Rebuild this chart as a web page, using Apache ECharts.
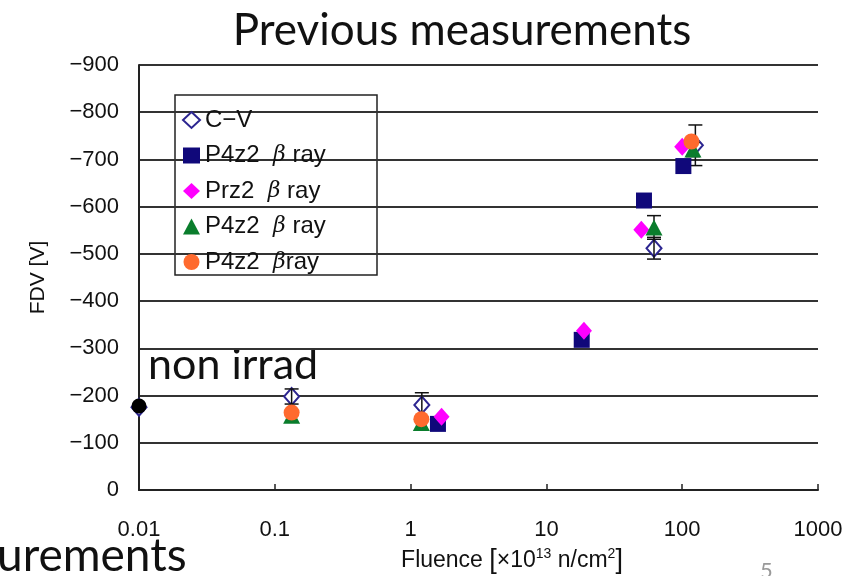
<!DOCTYPE html>
<html><head><meta charset="utf-8">
<script src="https://cdn.jsdelivr.net/npm/echarts@6/dist/echarts.min.js"></script>
<style>html,body{margin:0;padding:0;background:#fff}#c{width:866px;height:576px}</style>
</head><body><div id="c"></div>
<script>
// ---- data ----
const xTickLabels = ['0.01','0.1','1','10','100','1000'];
const nonIrrad = [[0.01,-178]];
const cvData = [[0.01,-175],[0.133,-198],[1.21,-180],[62,-512],[125,-730]];
const cvErr = [0,16,26,23,43];
const p4z2Navy = [[1.59,-140],[18.2,-318],[52.3,-613],[102,-686]];
const prz2Magenta = [[1.69,-155],[18.9,-337],[50,-551],[100,-727]];
const p4z2Green = [[0.133,-157],[1.2,-142],[62,-556],[120,-721]];
const greenErr = [0,0,25,15];
const p4z2Orange = [[0.133,-164],[1.2,-150],[117,-738]];
const legendNames = ['C-V','P4z2 a','Prz2','P4z2 b','P4z2 c'];
const legendLabels = {'C-V':'C−V','P4z2 a':'P4z2  {b|β} ray','Prz2':'Prz2  {b|β} ray','P4z2 b':'P4z2  {b|β} ray','P4z2 c':'P4z2  {b|β}ray'};

function errData(pts, errs){
  const out=[];
  pts.forEach((p,i)=>{ if(errs[i]>0) out.push([p[0], p[1]-errs[i], p[1]+errs[i]]); });
  return out;
}
const errBars = errData(cvData,cvErr).concat(errData(p4z2Green,greenErr));

const sans = "'Liberation Sans',Arial,sans-serif";
const slide = "Lato, 'Open Sans', sans-serif";
const chart = echarts.init(document.getElementById('c'));
chart.setOption({
  animation:false,
  backgroundColor:'#fff',
  grid:{left:139,right:48,top:65,bottom:86,show:false},
  xAxis:{type:'log',logBase:10,min:0.01,max:1000,
    axisLine:{show:true,onZero:false,lineStyle:{color:'#222',width:2}},
    axisTick:{show:true,inside:true,length:6,lineStyle:{color:'#222',width:1.5}},
    axisLabel:{margin:29,fontFamily:sans,fontSize:22,color:'#111',
      formatter:v=>{const i=Math.round(Math.log10(v))+2;return xTickLabels[i]!==undefined?xTickLabels[i]:'';}},
    splitLine:{show:false}},
  yAxis:{type:'value',min:-900,max:0,interval:100,inverse:true,
    name:'FDV [V]',nameLocation:'middle',nameGap:90,nameRotate:90,
    nameTextStyle:{fontFamily:sans,fontSize:21,color:'#111'},
    axisLine:{show:true,lineStyle:{color:'#222',width:2}},
    axisTick:{show:false},
    axisLabel:{margin:20,fontFamily:sans,fontSize:22,color:'#111',
      formatter:v=>v===0?'0':'−'+Math.abs(v)},
    splitLine:{show:true,lineStyle:{color:'#333',width:2}}},
  legend:{orient:'vertical',left:177,top:103,itemWidth:17,itemHeight:16,itemGap:11.5,
    data:legendNames,
    formatter:n=>legendLabels[n],
    textStyle:{fontFamily:sans,fontSize:24,lineHeight:20,color:'#111',
      rich:{b:{fontFamily:"'DejaVu Serif',serif",fontStyle:'italic',fontSize:22,lineHeight:20,color:'#111'}}}},
  graphic:[
    {type:'rect',shape:{x:175,y:95,width:202,height:180},style:{fill:'#fff',stroke:'#222',lineWidth:1.5},z:-1},
    {type:'text',x:462,y:31,style:{text:'Previous measurements',font:"44px "+slide,fill:'#111',align:'center',verticalAlign:'middle'}},
    {type:'text',x:148,y:365,style:{text:'non irrad',font:"43px "+slide,fill:'#111',verticalAlign:'middle'}},
    {type:'text',x:-3,y:556,style:{text:'urements',font:"46px "+slide,fill:'#111',verticalAlign:'middle'}},
    {type:'text',x:760,y:560,style:{text:'5',font:"22px "+slide,fill:'#999'}},
    {type:'text',x:512,y:561,style:{
      text:'Fluence {a|[}×10{s|13} n/cm{s|2}{a|]}',
      font:"23px "+sans,fill:'#111',align:'center',verticalAlign:'middle',
      rich:{s:{fontSize:14,verticalAlign:'top',padding:[0,0,12,0],fontFamily:sans,fill:'#111'},a:{fontSize:27,fontFamily:sans,fill:'#111'}}}}
  ],
  series:[
    {name:'C-V',type:'scatter',data:cvData,symbol:'emptyDiamond',symbolSize:[15,17],
      itemStyle:{color:'#2c2590',borderColor:'#2c2590',borderWidth:2,opacity:1},z:2},
    {name:'errors',type:'custom',data:errBars,z:3,
      renderItem:(params,api)=>{
        const x=api.value(0);const lo=api.coord([x,api.value(1)]);const hi=api.coord([x,api.value(2)]);
        const hw=7;const st={stroke:'#111',lineWidth:1.5};
        return {type:'group',children:[
          {type:'line',shape:{x1:lo[0],y1:lo[1],x2:hi[0],y2:hi[1]},style:st},
          {type:'line',shape:{x1:lo[0]-hw,y1:lo[1],x2:lo[0]+hw,y2:lo[1]},style:st},
          {type:'line',shape:{x1:hi[0]-hw,y1:hi[1],x2:hi[0]+hw,y2:hi[1]},style:st}]};
      }},
    {name:'P4z2 a',type:'scatter',data:p4z2Navy,symbol:'rect',symbolSize:16,itemStyle:{color:'#10087a',opacity:1},z:4},
    {name:'Prz2',type:'scatter',data:prz2Magenta,symbol:'diamond',symbolSize:[16,18],itemStyle:{color:'#ff00ff',opacity:1},z:5},
    {name:'P4z2 b',type:'scatter',data:p4z2Green,symbol:'triangle',symbolSize:[17,16],itemStyle:{color:'#0a7d2c',opacity:1},z:6},
    {name:'P4z2 c',type:'scatter',data:p4z2Orange,symbol:'circle',symbolSize:16,itemStyle:{color:'#ff6a2e',opacity:1},z:7},
    {name:'non irrad',type:'scatter',data:nonIrrad,symbol:'circle',symbolSize:15,itemStyle:{color:'#000',opacity:1},z:8}
  ]
});
</script></body></html>
